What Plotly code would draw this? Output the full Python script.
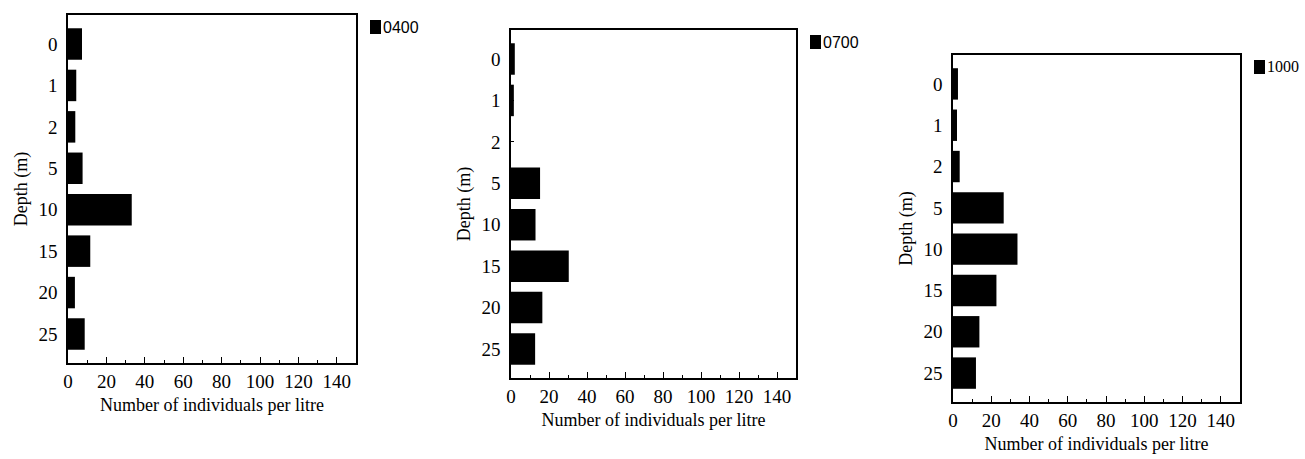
import plotly.graph_objects as go

# Depth strata (m) and sampling times
depths = ["0", "1", "2", "5", "10", "15", "20", "25"]
times = ["0400", "0700", "1000"]

# Number of individuals per litre at each depth
counts_0400 = [7.3, 4.3, 3.8, 7.6, 33.2, 11.6, 3.6, 8.7]
counts_0700 = [2.0, 1.5, 0.0, 15.3, 12.9, 30.4, 16.5, 12.7]
counts_1000 = [2.6, 2.1, 3.5, 26.5, 33.7, 22.7, 13.8, 12.0]

x_ticks = [0, 20, 40, 60, 80, 100, 120, 140]

series = [counts_0400, counts_0700, counts_1000]

W, H = 1305, 459
# panel boxes in pixels: (left, top, right, bottom)
boxes = [(68, 15, 356, 363), (511, 30, 796, 378), (953, 55, 1240, 402)]
key_fonts = ["Liberation Sans", "Liberation Sans", "Liberation Serif"]

serif = "Liberation Serif"
fig = go.Figure()
shapes, notes = [], []

for i, (t, vals, box) in enumerate(zip(times, series, boxes)):
    n = "" if i == 0 else str(i + 1)
    fig.add_trace(go.Bar(
        x=vals, y=depths, orientation="h", name=t,
        marker=dict(color="black", line=dict(width=0)),
        width=0.76,
        xaxis="x" + n, yaxis="y" + n,
        showlegend=False,
    ))
    l, tp, r, b = box
    xd = [l / W, r / W]
    yd = [1 - b / H, 1 - tp / H]
    common = dict(showline=True, mirror=True, linecolor="black", linewidth=1.6,
                  showgrid=False, zeroline=False, automargin=False,
                  tickfont=dict(family=serif, size=19, color="black"))
    fig.update_layout(**{
        "xaxis" + n: dict(
            domain=xd, anchor="y" + n, range=[0, 150],
            tickvals=x_ticks, ticks="inside", ticklen=6, tickwidth=1.2,
            tickcolor="black",
            minor=dict(dtick=10, ticks="inside", ticklen=3, tickcolor="black"),
            title=dict(text="Number of individuals per litre",
                       font=dict(family=serif, size=18, color="black"),
                       standoff=8),
            **common),
        "yaxis" + n: dict(
            domain=yd, anchor="x" + n, type="category",
            categoryorder="array", categoryarray=depths,
            range=[7.7, -0.7], ticks="inside", ticklen=3, tickcolor="black",
            ticklabelstandoff=5,
            title=dict(text="Depth (m)",
                       font=dict(family=serif, size=18, color="black"),
                       standoff=6),
            **common),
    })
    # series key: filled square followed by the sampling time
    kx, ky = r + 14, tp + 12
    shapes.append(dict(type="rect", xref="paper", yref="paper",
                       x0=kx / W, x1=(kx + 11) / W,
                       y0=1 - (ky + 7) / H, y1=1 - (ky - 7) / H,
                       fillcolor="black", line=dict(width=0)))
    notes.append(dict(text=t, xref="paper", yref="paper",
                      x=(kx + 11) / W, y=1 - ky / H,
                      xanchor="left", yanchor="middle", showarrow=False,
                      font=dict(family=key_fonts[i], size=16, color="black")))

fig.update_layout(
    width=W, height=H,
    margin=dict(l=0, r=0, t=0, b=0),
    paper_bgcolor="white", plot_bgcolor="white",
    shapes=shapes, annotations=notes,
)

fig.write_html("out.html")
